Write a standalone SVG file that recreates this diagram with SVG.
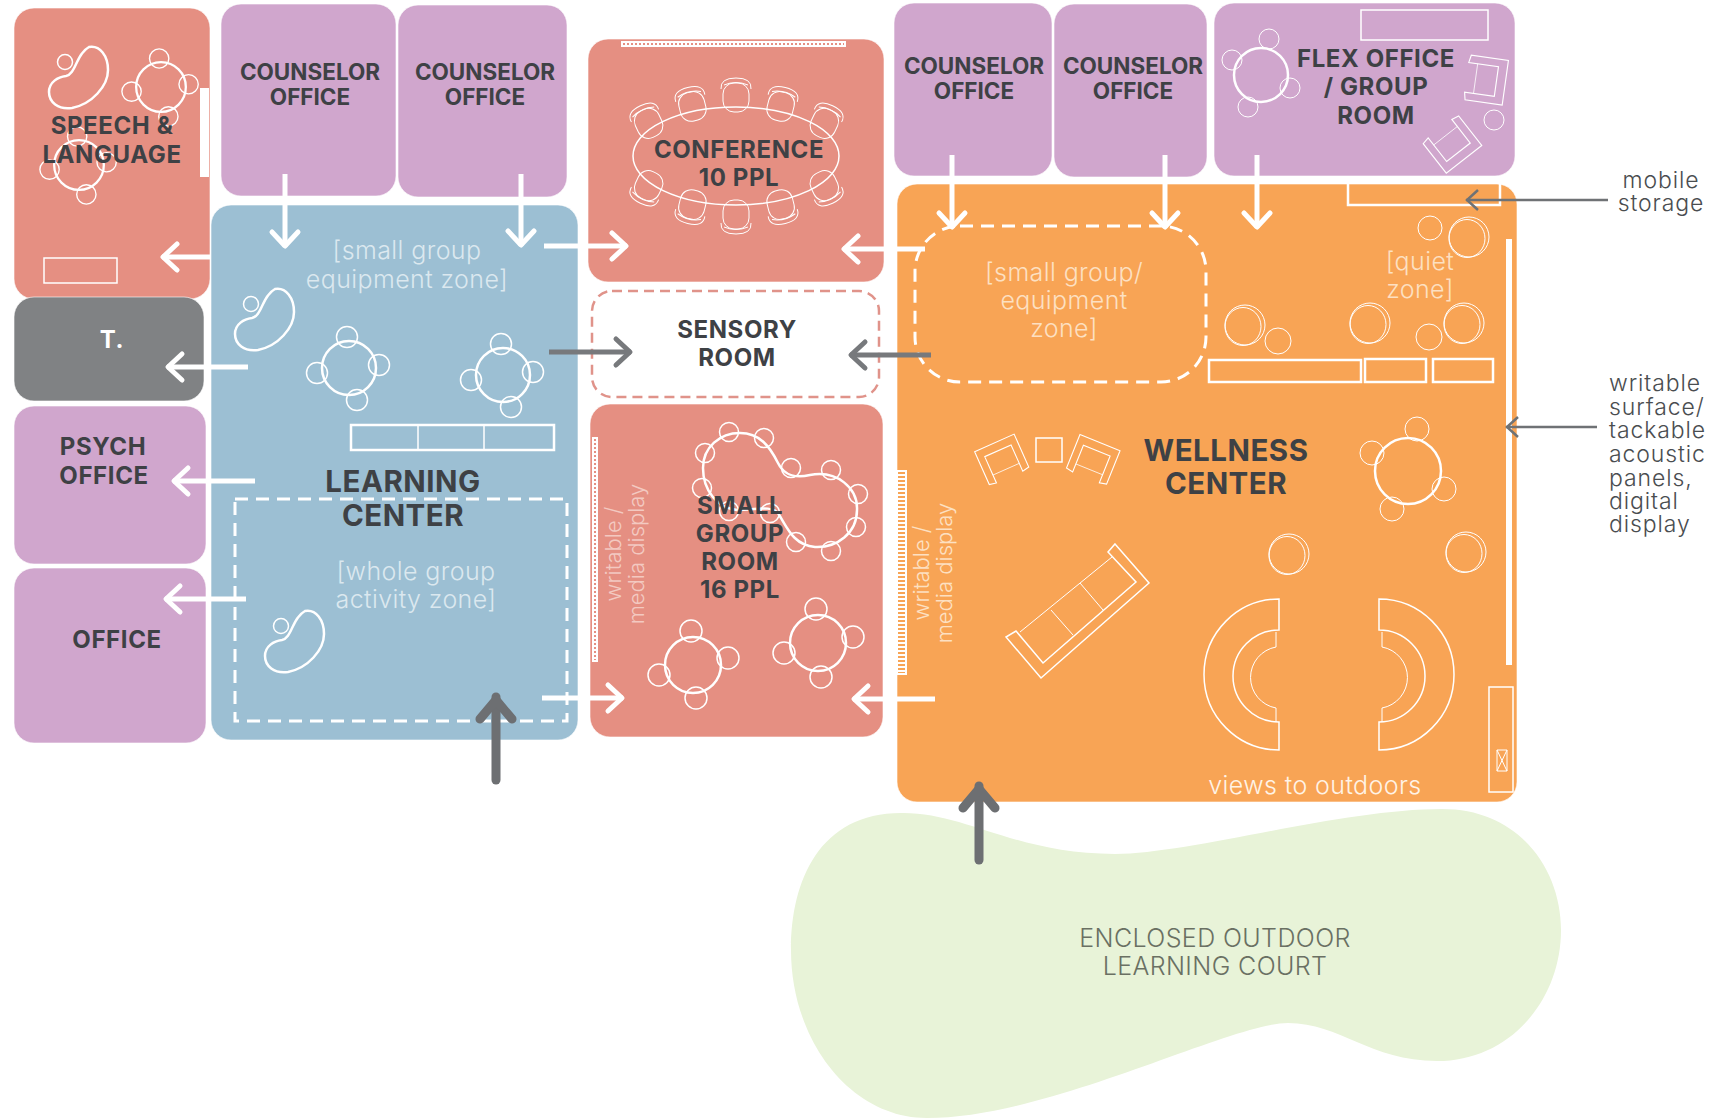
<svg xmlns="http://www.w3.org/2000/svg" xmlns:xlink="http://www.w3.org/1999/xlink" width="1716" height="1118" viewBox="0 0 1716 1118">
<style>
.room{stroke:#fff;stroke-width:1;stroke-opacity:.6}
.sal{fill:#e58f82}.pur{fill:#d0a6cd}.blu{fill:#9cbfd3}.org{fill:#f8a455}.gry{fill:#808284}
.ln{fill:none;stroke:#fff;stroke-width:2.5}
.th{fill:none;stroke:#fff;stroke-width:1.5}
.hair{fill:none;stroke:#fff;stroke-width:1}
.dash{fill:none;stroke:#fff;stroke-width:3;stroke-dasharray:13 8}
.b{font-family:Inter,"Liberation Sans",sans-serif;font-weight:700;font-size:24px;letter-spacing:.6px;fill:#3e4145;text-anchor:middle}
.c{font-size:22.500px;letter-spacing:0}
.big{font-size:29.500px;letter-spacing:.5px}
.l{font-family:Inter,"Liberation Sans",sans-serif;font-weight:300;font-size:25px;letter-spacing:.4px;text-anchor:middle}
.r{font-size:22px;letter-spacing:0}
.wb{fill:#dbe8ef}.wo{fill:#fde0c2}.wp{fill:#f3c9c1}
.note{font-family:Inter,"Liberation Sans",sans-serif;font-weight:300;font-size:23px;letter-spacing:.9px;fill:#4a4d50}
.aw{fill:none;stroke:#fff;stroke-width:5}
.ag{fill:none;stroke:#77797c;stroke-width:5}
.ah{fill:none;stroke:#6d6f72;stroke-width:9;stroke-linecap:round}
.at{fill:none;stroke:#6f7275;stroke-width:2.5}
</style>
<defs>
<marker id="mw" markerUnits="userSpaceOnUse" markerWidth="30" markerHeight="34" viewBox="-26 -17 30 34" refX="0" refY="0" orient="auto"><path d="M-15,-13 L-1,0 L-15,13" fill="none" stroke="#fff" stroke-width="5" stroke-linecap="round" stroke-linejoin="round"/></marker>
<marker id="mg" markerUnits="userSpaceOnUse" markerWidth="30" markerHeight="34" viewBox="-26 -17 30 34" refX="0" refY="0" orient="auto"><path d="M-15,-13 L-1,0 L-15,13" fill="none" stroke="#77797c" stroke-width="5" stroke-linecap="round" stroke-linejoin="round"/></marker>
<marker id="mh" markerUnits="userSpaceOnUse" markerWidth="40" markerHeight="50" viewBox="-34 -25 40 50" refX="0" refY="0" orient="auto"><path d="M-22,-16 L-3,0 L-22,16" fill="none" stroke="#6d6f72" stroke-width="9" stroke-linecap="round" stroke-linejoin="round"/></marker>
<marker id="mt" markerUnits="userSpaceOnUse" markerWidth="20" markerHeight="30" viewBox="-16 -15 20 30" refX="0" refY="0" orient="auto"><path d="M-12,-10 L-1,0 L-12,10" fill="none" stroke="#6f7275" stroke-width="2.5"/></marker>
<g id="t4" class="ln"><circle r="27"/><circle class="th" cx="-2" cy="-31" r="10.5"/><circle class="th" cx="-32" cy="5" r="10.5"/><circle class="th" cx="30" cy="-3" r="10.5"/><circle class="th" cx="8" cy="32" r="10.5"/></g>
<g id="bean"><path class="ln" d="M37,1 C48,-1 56,10 56,24 C56,40 40,58 20,62 C6,64 -3,56 -3,46 C-3,36 6,31 14,30 C24,28 24,8 37,1 Z"/><circle class="th" cx="13" cy="16" r="7.500"/></g>
<g id="chair" class="hair"><rect x="-13" y="-13" width="26" height="29" rx="11"/><path d="M-15,-7 Q-16,-18 0,-18 Q16,-18 15,-7"/><path d="M-12,-11 Q0,-16 12,-11"/></g>
<g id="arm" class="th"><path d="M-30,-26 L30,-26 L30,24 L20,26 L20,-14 L-20,-14 L-20,26 L-30,24 Z"/><path class="hair" d="M-20,14 L20,14"/></g>
<g id="st2" class="hair"><circle r="20"/><ellipse cx="-2" cy="1.500" rx="18" ry="19"/></g>
</defs>
<rect width="1716" height="1118" fill="#fff"/>
<g id="court"><path fill="#e8f3d8" d="M901,813 C965,812 1015,854 1115,854 C1190,854 1340,809 1442,809 C1520,809 1561,870 1561,930 C1561,1000 1510,1061 1437,1061 C1370,1061 1340,1023 1288,1023 C1230,1023 1050,1118 927,1118 C850,1118 791,1040 791,950 C791,880 820,813 901,813 Z"/><text class="l" x="1215" y="947" fill="#6a7063">ENCLOSED OUTDOOR</text><text class="l" x="1215" y="975" fill="#6a7063">LEARNING COURT</text></g>
<g id="speech"><rect class="room sal" x="14" y="8" width="196" height="291" rx="20"/><rect x="200" y="88" width="9" height="89" fill="#fff"/><rect class="th" x="44" y="258" width="73" height="25"/><use xlink:href="#bean" x="52" y="46"/><use xlink:href="#t4" transform="translate(161,87) scale(.92)"/><use xlink:href="#t4" transform="translate(79,165) scale(.92)"/><text class="b" x="112" y="134">SPEECH &amp;</text><text class="b" x="112" y="163">LANGUAGE</text></g>
<g id="t-room"><rect class="room gry" x="14" y="297" width="190" height="104" rx="20"/><text class="b" x="112" y="348" style="fill:#fff">T.</text></g>
<g id="psych"><rect class="room pur" x="14" y="406" width="192" height="158" rx="20"/><text class="b" x="103" y="455">PSYCH</text><text class="b" x="104" y="484">OFFICE</text></g>
<g id="office"><rect class="room pur" x="14" y="568" width="192" height="175" rx="20"/><text class="b" x="117" y="648">OFFICE</text></g>
<g id="counselor-1"><rect class="room pur" x="221" y="4" width="175" height="192" rx="20"/><text class="b c" x="310" y="80">COUNSELOR</text><text class="b c" x="310" y="105">OFFICE</text></g>
<g id="counselor-2"><rect class="room pur" x="398" y="5" width="169" height="192" rx="20"/><text class="b c" x="485" y="80">COUNSELOR</text><text class="b c" x="485" y="105">OFFICE</text></g>
<g id="learning"><rect class="room blu" x="211" y="205" width="367" height="535" rx="20"/>
<use xlink:href="#bean" x="238" y="288"/><use xlink:href="#bean" x="268" y="610"/><use xlink:href="#t4" x="349" y="368"/><use xlink:href="#t4" x="503" y="375"/>
<rect class="ln" x="351" y="425" width="203" height="25"/><path class="th" d="M418,425V450M484,425V450"/>
<rect class="dash" x="235" y="499" width="332" height="222"/>
<text class="l wb" x="407" y="259">[small group</text><text class="l wb" x="407" y="288">equipment zone]</text>
<text class="l wb" x="416" y="580">[whole group</text><text class="l wb" x="416" y="608">activity zone]</text>
<text class="b big" x="403" y="492">LEARNING</text><text class="b big" x="403" y="526">CENTER</text></g>
<g id="conference"><rect class="room sal" x="588" y="39" width="296" height="243" rx="20"/><rect x="621" y="41" width="225" height="6" fill="#fff"/><path d="M623,44H844" stroke="#e58f82" stroke-width="2" stroke-dasharray="2 2"/>
<ellipse class="th" cx="736" cy="156" rx="103" ry="49"/>
<use xlink:href="#chair" transform="translate(736,96)"/><use xlink:href="#chair" transform="translate(692,105) rotate(-14)"/><use xlink:href="#chair" transform="translate(781,105) rotate(14)"/><use xlink:href="#chair" transform="translate(648,122) rotate(-25)"/><use xlink:href="#chair" transform="translate(825,122) rotate(25)"/>
<use xlink:href="#chair" transform="translate(736,216) rotate(180)"/><use xlink:href="#chair" transform="translate(692,206) rotate(194)"/><use xlink:href="#chair" transform="translate(781,206) rotate(166)"/><use xlink:href="#chair" transform="translate(648,187) rotate(205)"/><use xlink:href="#chair" transform="translate(825,187) rotate(155)"/>
<text class="b" x="739" y="158">CONFERENCE</text><text class="b" x="739" y="186">10 PPL</text></g>
<g id="sensory"><rect x="592" y="291" width="287" height="106" rx="20" fill="#fff" stroke="#e0938a" stroke-width="2.500" stroke-dasharray="10 6"/><text class="b" x="737" y="338">SENSORY</text><text class="b" x="737" y="366">ROOM</text></g>
<g id="small-group"><rect class="room sal" x="590" y="404" width="293" height="333" rx="20"/><rect x="592" y="437" width="6" height="225" fill="#fff"/><path d="M595,439V660" stroke="#e58f82" stroke-width="2" stroke-dasharray="2 2"/>
<path class="ln" d="M703,468 C703,447 720,433 740,433 C760,433 770,447 778,463 C785,477 797,478 810,475 C837,470 858,488 857,510 C857,533 837,548 815,547 C793,545 787,527 778,513 C770,505 757,510 737,510 C717,508 703,490 703,468 Z"/>
<g class="th"><circle cx="729" cy="432" r="9.500"/><circle cx="764" cy="438" r="9.500"/><circle cx="705" cy="453" r="9.500"/><circle cx="702" cy="488" r="9.500"/><circle cx="729" cy="511" r="9.500"/><circle cx="770" cy="513" r="9.500"/><circle cx="791" cy="468" r="9.500"/><circle cx="831" cy="470" r="9.500"/><circle cx="858" cy="494" r="9.500"/><circle cx="856" cy="527" r="9.500"/><circle cx="796" cy="542" r="9.500"/><circle cx="831" cy="551" r="9.500"/></g>
<g class="ln"><circle cx="693" cy="665" r="28"/><circle cx="818" cy="643" r="28"/></g>
<g class="th"><circle cx="691" cy="631" r="11"/><circle cx="728" cy="658" r="11"/><circle cx="659" cy="675" r="11"/><circle cx="696" cy="698" r="11"/><circle cx="816" cy="609" r="11"/><circle cx="853" cy="637" r="11"/><circle cx="784" cy="653" r="11"/><circle cx="821" cy="677" r="11"/></g>
<text class="l r wp" transform="translate(621,554) rotate(-90)">writable /</text><text class="l r wp" transform="translate(644,554) rotate(-90)">media display</text>
<text class="b" x="740" y="514">SMALL</text><text class="b" x="740" y="542">GROUP</text><text class="b" x="740" y="570">ROOM</text><text class="b" x="740" y="598">16 PPL</text></g>
<g id="counselor-3"><rect class="room pur" x="894" y="3" width="158" height="173" rx="20"/><text class="b c" x="974" y="74">COUNSELOR</text><text class="b c" x="974" y="99">OFFICE</text></g>
<g id="counselor-4"><rect class="room pur" x="1054" y="4" width="153" height="173" rx="20"/><text class="b c" x="1133" y="74">COUNSELOR</text><text class="b c" x="1133" y="99">OFFICE</text></g>
<g id="flex"><rect class="room pur" x="1214" y="3" width="301" height="173" rx="20"/><rect class="th" x="1361" y="10" width="127" height="30"/>
<g class="ln"><circle cx="1261" cy="75" r="27"/></g><g class="hair"><circle cx="1269" cy="39" r="10"/><circle cx="1232" cy="60" r="10"/><circle cx="1290" cy="88" r="10"/><circle cx="1248" cy="107" r="10"/><circle cx="1494" cy="120" r="10"/></g>
<use xlink:href="#arm" transform="translate(1486,80) rotate(98) scale(.75)"/><use xlink:href="#arm" transform="translate(1452,144) rotate(142) scale(.75)"/>
<text class="b" x="1376" y="67">FLEX OFFICE</text><text class="b" x="1376" y="95">/ GROUP</text><text class="b" x="1376" y="124">ROOM</text></g>
<g id="wellness"><rect class="room org" x="897" y="184" width="620" height="618" rx="20"/>
<path class="ln" d="M1348,184V205H1500V184"/>
<rect class="dash" x="915" y="226" width="291" height="156" rx="45"/>
<use xlink:href="#st2" x="1469" y="237"/><circle class="hair" cx="1430" cy="228" r="12"/><use xlink:href="#st2" x="1245" y="325"/><circle class="hair" cx="1278" cy="341" r="13"/><use xlink:href="#st2" x="1370" y="323"/><circle class="hair" cx="1429" cy="337" r="13"/><use xlink:href="#st2" x="1464" y="323"/>
<g class="ln"><rect x="1209" y="360" width="152" height="22"/><rect x="1365" y="359" width="61" height="23"/><rect x="1433" y="359" width="60" height="23"/></g>
<rect x="1506" y="239" width="6" height="426" fill="#fff"/>
<text class="l wo" x="1420" y="270">[quiet</text><text class="l wo" x="1420" y="298">zone]</text>
<text class="l wo" x="1064" y="281">[small group/</text><text class="l wo" x="1064" y="309">equipment</text><text class="l wo" x="1064" y="337">zone]</text>
<use xlink:href="#arm" transform="translate(1002,460) rotate(-24) scale(.72)"/><rect class="th" x="1036" y="438" width="26" height="24"/><use xlink:href="#arm" transform="translate(1093,460) rotate(22) scale(.72)"/>
<circle class="ln" cx="1408" cy="471" r="33"/><g class="hair"><circle cx="1417" cy="429" r="12"/><circle cx="1372" cy="453" r="12"/><circle cx="1444" cy="489" r="12"/><circle cx="1392" cy="509" r="12"/></g>
<use xlink:href="#st2" x="1289" y="554"/><use xlink:href="#st2" x="1466" y="552"/>
<rect x="896" y="470" width="11" height="205" fill="#fff"/><path d="M901.500,472V673" stroke="#f8a455" stroke-width="7" stroke-dasharray="2 2"/>
<text class="l r wo" transform="translate(929,573) rotate(-90)">writable /</text><text class="l r wo" transform="translate(952,573) rotate(-90)">media display</text>
<path class="th" d="M1115,544 L1149,583 L1041,678 L1006,637 L1016,631 L1043,663 L1136,582 L1108,552 Z"/><path class="hair" d="M1112,557 L1020,632 M1080,583 L1103,610 M1051,610 L1073,635"/>
<path class="th" d="M1279,599 A75,75.500 0 0 0 1279,750 V722 A46,46 0 0 1 1279,630 Z"/><path class="hair" d="M1276,632 V647 A31,31 0 0 0 1276,708 V722"/>
<path class="th" d="M1379,599 A75,75.500 0 0 1 1379,750 V722 A46,46 0 0 0 1379,630 Z"/><path class="hair" d="M1382,632 V647 A31,31 0 0 1 1382,708 V722"/>
<rect class="th" x="1489" y="687" width="24" height="105"/><path class="hair" d="M1497,750H1507V771H1497ZM1497,750L1507,771M1507,750L1497,771"/>
<text class="l wo" x="1315" y="794" style="fill:#fff3e6">views to outdoors</text>
<text class="b big" x="1226" y="461">WELLNESS</text><text class="b big" x="1226" y="494">CENTER</text></g>
<g id="notes"><text class="note" x="1661" y="188" text-anchor="middle">mobile</text><text class="note" x="1661" y="211" text-anchor="middle">storage</text>
<text class="note" x="1609" y="391">writable</text><text class="note" x="1609" y="415">surface/</text><text class="note" x="1609" y="438">tackable</text><text class="note" x="1609" y="462">acoustic</text><text class="note" x="1609" y="486">panels,</text><text class="note" x="1609" y="509">digital</text><text class="note" x="1609" y="532">display</text></g>
<g id="connectors">
<line class="aw" x1="285" y1="174" x2="285" y2="247" marker-end="url(#mw)"/>
<line class="aw" x1="521" y1="174" x2="521" y2="246" marker-end="url(#mw)"/>
<line class="aw" x1="952" y1="155" x2="952" y2="228" marker-end="url(#mw)"/>
<line class="aw" x1="1165" y1="155" x2="1165" y2="228" marker-end="url(#mw)"/>
<line class="aw" x1="1257" y1="155" x2="1257" y2="228" marker-end="url(#mw)"/>
<line class="aw" x1="210" y1="257" x2="162" y2="257" marker-end="url(#mw)"/>
<line class="aw" x1="248" y1="367" x2="167" y2="367" marker-end="url(#mw)"/>
<line class="aw" x1="255" y1="481" x2="173" y2="481" marker-end="url(#mw)"/>
<line class="aw" x1="246" y1="599" x2="165" y2="599" marker-end="url(#mw)"/>
<line class="aw" x1="544" y1="246" x2="627" y2="246" marker-end="url(#mw)"/>
<line class="aw" x1="925" y1="249" x2="843" y2="249" marker-end="url(#mw)"/>
<line class="aw" x1="542" y1="698" x2="623" y2="698" marker-end="url(#mw)"/>
<line class="aw" x1="935" y1="699" x2="853" y2="699" marker-end="url(#mw)"/>
<line class="ag" x1="549" y1="352" x2="631" y2="352" marker-end="url(#mg)"/>
<line class="ag" x1="931" y1="355" x2="850" y2="355" marker-end="url(#mg)"/>
<line class="ah" x1="496" y1="780" x2="496" y2="697" marker-end="url(#mh)"/>
<line class="ah" x1="979" y1="860" x2="979" y2="786" marker-end="url(#mh)"/>
<line class="at" x1="1608" y1="200" x2="1466" y2="200" marker-end="url(#mt)"/>
<line class="at" x1="1597" y1="427" x2="1506" y2="427" marker-end="url(#mt)"/>
</g>
</svg>
